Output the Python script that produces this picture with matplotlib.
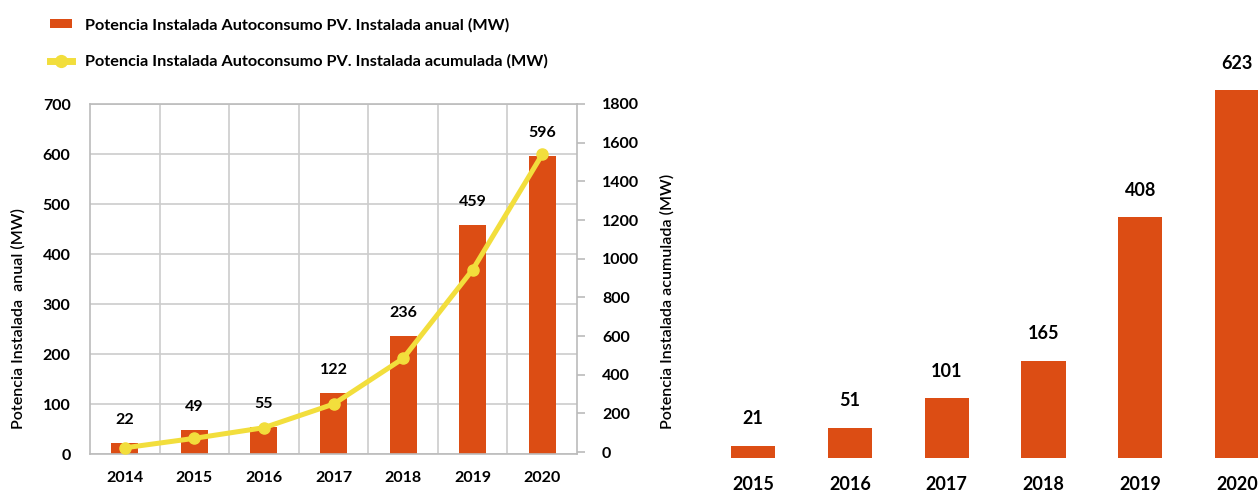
import matplotlib.pyplot as plt
from matplotlib.lines import Line2D
from matplotlib.patches import Patch

plt.rcParams['font.family'] = ['Lato', 'DejaVu Sans']

# left chart: annual + cumulative self-consumption PV
years_left = ['2014', '2015', '2016', '2017', '2018', '2019', '2020']
annual_mw = [22, 49, 55, 122, 236, 459, 596]
cumulative_mw = [22, 71, 126, 248, 484, 943, 1539]

# right chart: annual bars only
years_right = ['2015', '2016', '2017', '2018', '2019', '2020']
annual_right_mw = [21, 51, 101, 165, 408, 623]

label_bar = 'Potencia Instalada Autoconsumo PV. Instalada anual (MW)'
label_line = 'Potencia Instalada Autoconsumo PV. Instalada acumulada (MW)'

BAR = '#DC4D14'
LINE = '#F2DE3C'
GRID = '#CCCCCC'
W, H = 1258, 493

fig = plt.figure(figsize=(W / 100, H / 100), dpi=100)

# ---- left chart ----
ax = fig.add_axes([90 / W, (H - 454) / H, 487 / W, 350 / H])
x = range(len(years_left))
ax.bar(x, annual_mw, width=0.39, color=BAR, zorder=2)
ax.set_xlim(-0.5, len(years_left) - 0.5)
ax.set_ylim(0, 700)
ax.set_yticks(range(0, 701, 100))
ax.set_xticks(list(x))
ax.set_xticklabels(years_left, fontsize=11.5, fontweight='bold')
ax.set_xticks([i + 0.5 for i in range(len(years_left) - 1)], minor=True)
ax.tick_params(axis='x', which='both', length=0, pad=12)
ax.tick_params(axis='y', length=0, pad=14, labelsize=11.5)
for t in ax.get_yticklabels():
    t.set_fontweight('bold')
ax.grid(axis='y', color=GRID, lw=1.2)
ax.grid(axis='x', which='minor', color=GRID, lw=1.2)
ax.set_axisbelow(True)
for s in ax.spines.values():
    s.set_color('#BBBBBB')
    s.set_linewidth(1.2)

for i, v in enumerate(annual_mw):
    ax.annotate(str(v), (i, v), xytext=(0, 16.5), textcoords='offset points',
                ha='center', va='center', fontsize=11.5, fontweight='bold')

ax.set_ylabel('Potencia Instalada  anual (MW)', fontsize=11.5, fontweight='semibold')
ax.yaxis.label.set_verticalalignment('center')
ax.yaxis.set_label_coords((18 - 90) / 487, (454 - 319) / 350)

ax2 = ax.twinx()
ax2.plot(list(x), cumulative_mw, color=LINE, lw=3.6, marker='o', ms=8, zorder=3)
ax2.set_ylim(-10, 1800)
ax2.set_yticks(range(0, 1801, 200))
ax2.tick_params(axis='y', length=6, width=1.2, color='#BBBBBB', pad=12, labelsize=11.5)
for t in ax2.get_yticklabels():
    t.set_fontweight('bold')
for s in ax2.spines.values():
    s.set_visible(False)
ax2.set_ylabel('Potencia Instalada acumulada (MW)', fontsize=11.5, fontweight='semibold')
ax2.yaxis.label.set_verticalalignment('center')
ax2.yaxis.set_label_coords((667 - 90) / 487, (454 - 301) / 350)

# ---- right chart (cut at the right edge, like the source) ----
axr = fig.add_axes([704.6 / W, (H - 458) / H, 581 / W, 413 / H])
xr = range(len(years_right))
axr.bar(xr, annual_right_mw, width=0.455, color=BAR)
axr.set_xlim(-0.5, len(years_right) - 0.5)
axr.set_ylim(0, 700)
axr.set_xticks(list(xr))
axr.set_xticklabels(years_right, fontsize=13, fontweight='bold')
axr.tick_params(axis='x', length=0, pad=13)
axr.set_yticks([])
for s in axr.spines.values():
    s.set_visible(False)
for i, v in enumerate(annual_right_mw):
    axr.annotate(str(v), (i, v), xytext=(0, 19.5), textcoords='offset points',
                 ha='center', va='center', fontsize=13, fontweight='bold')

# ---- legend ----
handles = [Patch(facecolor=BAR, edgecolor='none'),
           Line2D([], [], color=LINE, lw=5, marker='o', ms=8.5)]
fig.legend(handles, [label_bar, label_line], loc='upper left',
           bbox_to_anchor=(42 / W, 1 - 10 / H), frameon=False, borderpad=0,
           prop={'size': 11.7, 'weight': 'bold'}, handlelength=1.35,
           handleheight=0.5, handletextpad=0.8, labelspacing=1.35)

fig.savefig('out.png', dpi=100)
